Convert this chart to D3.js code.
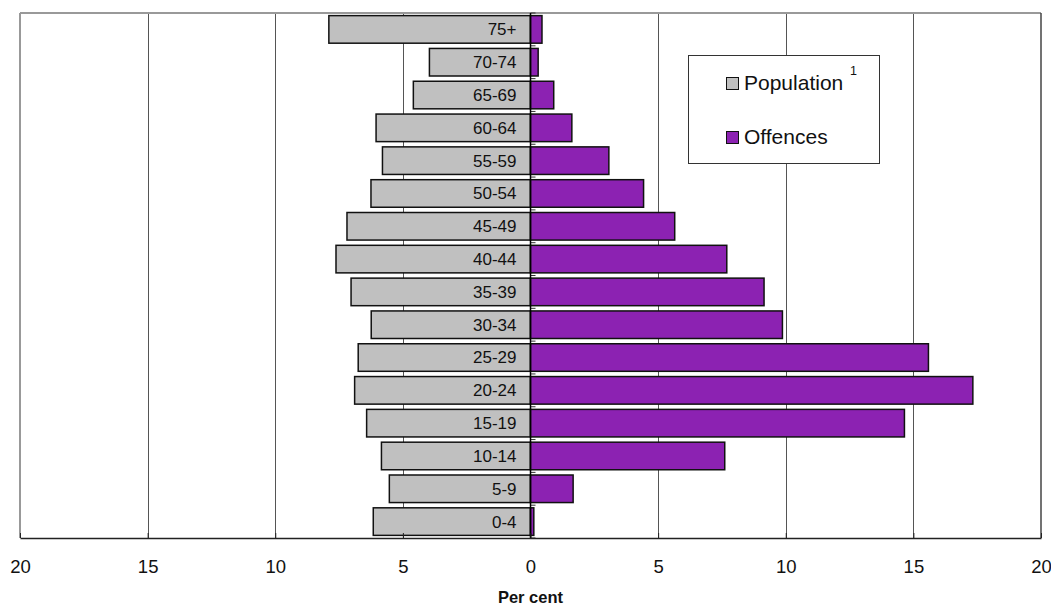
<!DOCTYPE html>
<html>
<head>
<meta charset="utf-8">
<script src="https://cdn.jsdelivr.net/npm/d3@7"></script>
<style>
  html, body { margin: 0; padding: 0; background: #fff; }
  svg { display: block; font-family: Arial, "Liberation Sans", sans-serif; }
</style>
</head>
<body>
<svg id="chart" width="1051" height="605"></svg>
<script>
const categories = ["75+","70-74","65-69","60-64","55-59","50-54","45-49","40-44","35-39","30-34","25-29","20-24","15-19","10-14","5-9","0-4"];
const population = [7.9, 3.96, 4.59, 6.05, 5.80, 6.25, 7.19, 7.62, 7.03, 6.24, 6.75, 6.89, 6.42, 5.84, 5.53, 6.16];
const offences   = [0.45, 0.30, 0.91, 1.62, 3.07, 4.43, 5.65, 7.69, 9.15, 9.87, 15.59, 17.33, 14.65, 7.61, 1.67, 0.13];
const tickValues = [-20, -15, -10, -5, 0, 5, 10, 15, 20];
const seriesNames = ["Population", "Offences"];
const xLabel = "Per cent";

const svg = d3.select("#chart");
const pLeft = 20, pRight = 1041, pTop = 13, pBottom = 538;

const x = d3.scaleLinear().domain([-20, 20]).range([pLeft, pRight]);
const y = d3.scaleBand().domain(categories).range([pTop, pBottom]).paddingInner(0.16).paddingOuter(0.08);

const greyFill = "#C0C0C0";
const purpleFill = "#8C22B2";

// gridlines
svg.append("g").selectAll("line")
  .data(tickValues.filter(v => v !== 0 && Math.abs(v) !== 20))
  .join("line")
  .attr("x1", d => Math.round(x(d)) + 0.5).attr("x2", d => Math.round(x(d)) + 0.5)
  .attr("y1", pTop).attr("y2", pBottom)
  .attr("stroke", "#555").attr("stroke-width", 1);

// plot border
svg.append("line").attr("x1", pLeft).attr("x2", pRight).attr("y1", pTop).attr("y2", pTop)
  .attr("stroke", "#999").attr("stroke-width", 2);
svg.append("line").attr("x1", pLeft).attr("x2", pLeft).attr("y1", pTop).attr("y2", pBottom)
  .attr("stroke", "#999").attr("stroke-width", 2);
svg.append("line").attr("x1", pRight).attr("x2", pRight).attr("y1", pTop).attr("y2", pBottom)
  .attr("stroke", "#444").attr("stroke-width", 1.5);

// category boundary ticks at zero axis
const bounds = categories.map(c => y(c) - y.step() * y.paddingInner() / 2);
bounds.push(pBottom);
svg.append("g").selectAll("line").data(bounds).join("line")
  .attr("x1", x(0)).attr("x2", x(0) + 5)
  .attr("y1", d => d).attr("y2", d => d)
  .attr("stroke", "#333").attr("stroke-width", 1);

// population bars (left)
svg.append("g").selectAll("rect").data(categories).join("rect")
  .attr("x", (d, i) => x(-population[i]))
  .attr("width", (d, i) => x(0) - x(-population[i]))
  .attr("y", d => y(d))
  .attr("height", y.bandwidth())
  .attr("fill", greyFill).attr("stroke", "#111").attr("stroke-width", 1.5);

// offences bars (right)
svg.append("g").selectAll("rect").data(categories).join("rect")
  .attr("x", x(0))
  .attr("width", (d, i) => x(offences[i]) - x(0))
  .attr("y", d => y(d))
  .attr("height", y.bandwidth())
  .attr("fill", purpleFill).attr("stroke", "#111").attr("stroke-width", 1.5);

// zero axis line
svg.append("line").attr("x1", x(0)).attr("x2", x(0)).attr("y1", pTop).attr("y2", pBottom)
  .attr("stroke", "#000").attr("stroke-width", 1.5);

// category labels
svg.append("g").selectAll("text").data(categories).join("text")
  .attr("x", x(0) - 14)
  .attr("y", d => y(d) + y.bandwidth() / 2)
  .attr("dy", "0.35em")
  .attr("text-anchor", "end")
  .attr("font-size", 17)
  .attr("fill", "#111")
  .text(d => d);

// bottom axis
const axis = d3.axisBottom(x).tickValues(tickValues)
  .tickFormat(d => Math.abs(d))
  .tickSizeInner(-5).tickSizeOuter(0).tickPadding(22);
const gx = svg.append("g").attr("transform", `translate(0,${pBottom})`).call(axis);
gx.select(".domain").attr("stroke", "#222").attr("stroke-width", 1.5);
gx.selectAll(".tick line").attr("stroke", "#222");
gx.selectAll(".tick text").attr("font-size", 18.5).attr("fill", "#111")
  .attr("font-family", "Arial, 'Liberation Sans', sans-serif");

// x label
svg.append("text").attr("x", x(0)).attr("y", 603)
  .attr("text-anchor", "middle").attr("font-weight", "bold").attr("font-size", 16.5)
  .attr("fill", "#111").text(xLabel);

// legend
const lg = svg.append("g");
lg.append("rect").attr("x", 688.5).attr("y", 55.5).attr("width", 191).attr("height", 108)
  .attr("fill", "#fff").attr("stroke", "#333").attr("stroke-width", 1);
const legendItems = [
  { name: seriesNames[0], fill: greyFill, yBase: 90 },
  { name: seriesNames[1], fill: purpleFill, yBase: 144 }
];
legendItems.forEach(it => {
  lg.append("rect").attr("x", 726.5).attr("y", it.yBase - 12.5).attr("width", 12).attr("height", 12)
    .attr("fill", it.fill).attr("stroke", "#111").attr("stroke-width", 1);
  lg.append("text").attr("x", 744).attr("y", it.yBase)
    .attr("font-size", 21).attr("fill", "#111").text(it.name);
});
lg.append("text").attr("x", 850).attr("y", 75).attr("font-size", 12.5).attr("fill", "#111").text("1");
</script>
</body>
</html>
